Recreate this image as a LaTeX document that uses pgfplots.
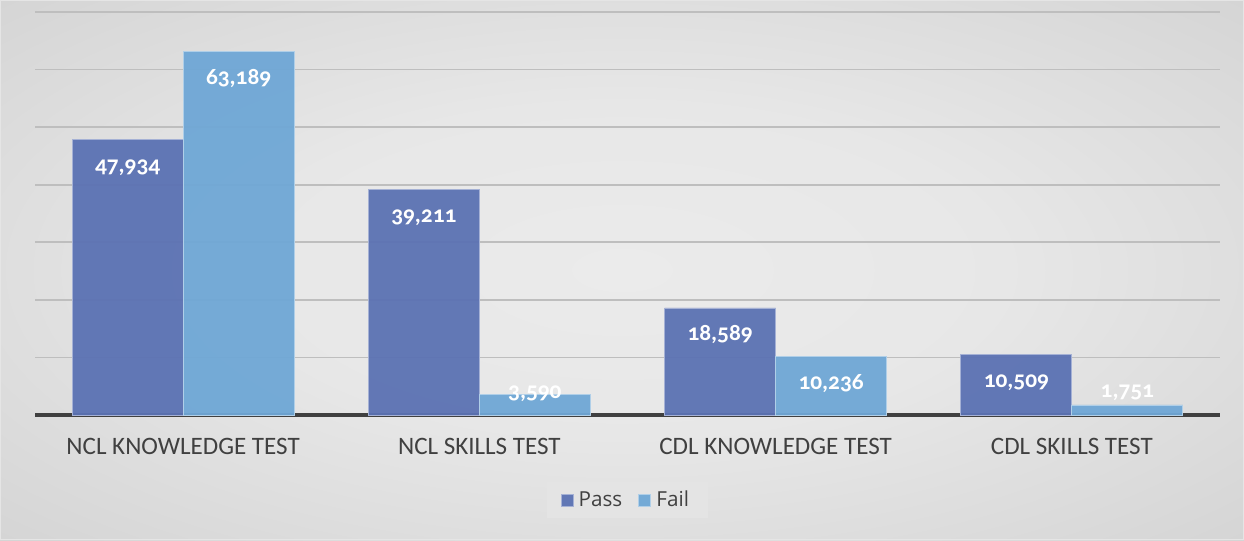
\documentclass[border=0pt]{standalone}
\usepackage{fontspec}
\setmainfont{Carlito}
\newfontfamily\numfont{Carlito}[Numbers=OldStyle]
\newfontfamily\legfont{Open Sans}
\usepackage{pgfplots}
\usepackage{pgfplotstable}
\pgfplotsset{compat=1.18}
\definecolor{passc}{HTML}{5B72B3}
\definecolor{failc}{HTML}{6FA7D6}
\definecolor{gridc}{HTML}{BEBEBE}
\definecolor{txt}{HTML}{404040}
\definecolor{bgin}{HTML}{EBEBEB}
\definecolor{bgout}{HTML}{C6C6C6}
\definecolor{legbg}{HTML}{E4E4E4}
\pgfdeclareradialshading{bgshade}{\pgfpoint{0bp}{0bp}}{color(0bp)=(bgin); color(15bp)=(bgin!90!bgout); color(52bp)=(bgout); color(80bp)=(bgout)}
% off = vertical offset of the value label from the bar top, in px
\pgfplotstableread{
x y off
0 47934 -33
1 39211 -33
2 18589 -33
3 10509 -33
}\passdata
\pgfplotstableread{
x y off
0 63189 -33
1 3590 -3.7
2 10236 -33
3 1751 7
}\faildata
\begin{document}
\begin{tikzpicture}
\shade[shading=bgshade] (0pt,0pt) rectangle (933pt,405pt);
\draw[white!80!gray, line width=1pt] (0.5pt,0.5pt) rectangle (932.5pt,404.5pt);
\begin{axis}[
  at={(26.25pt,93.75pt)}, anchor=south west,
  scale only axis, width=888.75pt, height=302.25pt,
  xmin=-0.5, xmax=3.5, ymin=0, ymax=70000,
  ybar=0pt, bar width=83.25pt,
  xtick={0,1,2,3},
  xticklabels={NCL KNOWLEDGE TEST, NCL SKILLS TEST, CDL KNOWLEDGE TEST, CDL SKILLS TEST},
  xticklabel style={font=\fontsize{18.8}{21}\selectfont, text=txt, anchor=base, yshift=-29.25pt},
  ytick={0,10000,...,70000}, yticklabels={}, scaled y ticks=false,
  ymajorgrids, grid style={gridc, line width=1.2pt},
  axis x line*=bottom, axis y line*=left,
  x axis line style={-, line width=3pt, color=txt},
  y axis line style={draw=none},
  major tick length=0pt,
  clip=false,
  nodes near coords,
  /pgf/number format/assume math mode=true,
  /pgf/number format/fixed, /pgf/number format/precision=0, /pgf/number format/1000 sep={,},
  nodes near coords style={font=\numfont\bfseries\fontsize{17.5}{19}\selectfont, text=white},
  legend columns=2,
  legend style={at={(0.5,-0.211)}, anchor=center, draw=none, fill=legbg,
    font=\legfont\fontsize{15.5}{17}\selectfont, text=txt,
    inner xsep=10pt, inner ysep=5pt, nodes={inner xsep=4pt},
    /tikz/every even column/.append style={column sep=8pt}},
  legend image code/.code={\draw[#1] (0pt,-4.5pt) rectangle (9pt,4.5pt);},
]
\addplot[fill=passc, fill opacity=0.95, draw=passc!55!white, line width=0.6pt, text opacity=1,
  visualization depends on={\thisrow{off} \as \off},
  every node near coord/.append style={anchor=base, yshift=\off*0.75pt}]
  table[x=x, y=y] {\passdata};
\addplot[fill=failc, fill opacity=0.95, draw=failc!55!white, line width=0.6pt, text opacity=1,
  visualization depends on={\thisrow{off} \as \off},
  every node near coord/.append style={anchor=base, yshift=\off*0.75pt}]
  table[x=x, y=y] {\faildata};
\legend{Pass, Fail}
\end{axis}
\end{tikzpicture}
\end{document}
